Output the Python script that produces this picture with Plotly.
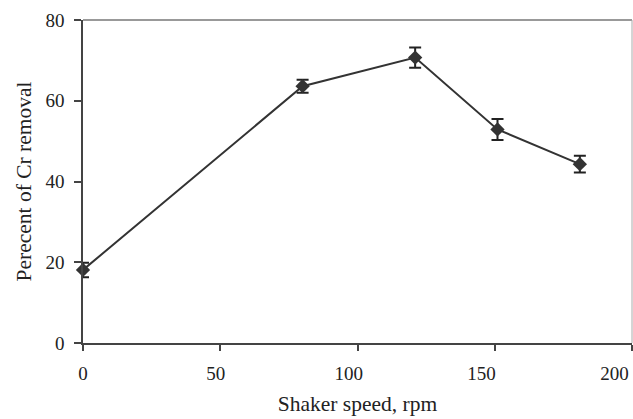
import plotly.graph_objects as go

speed = [0, 80, 121, 151, 181]
removal = [18.1, 63.6, 70.7, 52.9, 44.3]
err = [1.8, 1.6, 2.5, 2.6, 2.1]
x_ticks = [0, 50, 100, 150, 200]
y_ticks = [0, 20, 40, 60, 80]

FONT = "Liberation Serif, Times New Roman, serif"
AX = "#444444"

fig = go.Figure()
fig.add_trace(go.Scatter(
    x=speed, y=removal, mode="lines+markers",
    line=dict(color="#333333", width=2),
    marker=dict(symbol="diamond", size=11, color="#333333"),
    error_y=dict(type="data", array=err, visible=True, color="#222222", thickness=2, width=6),
    showlegend=False, cliponaxis=False,
))
# invisible helper trace so the label-only axis is drawn
fig.add_trace(go.Scatter(x=[x_ticks[0]], y=[y_ticks[0]], xaxis="x2", mode="markers",
                         marker=dict(opacity=0), showlegend=False, hoverinfo="skip"))

fig.update_layout(
    width=633, height=419,
    margin=dict(l=83, r=1, t=20, b=76),
    plot_bgcolor="white", paper_bgcolor="white",
    font=dict(family=FONT, size=19, color="#222222"),
    xaxis=dict(
        range=[0, 200], tickvals=x_ticks, ticks="outside", ticklen=6, tickwidth=1.5,
        tickcolor=AX, showline=True, linecolor=AX, linewidth=1.5,
        showgrid=False, zeroline=False, showticklabels=False,
    ),
    xaxis2=dict(
        overlaying="x", anchor="y", side="bottom",
        range=[0, 200 / 0.968], tickvals=x_ticks, ticks="", showline=False,
        showgrid=False, zeroline=False, tickfont=dict(size=19),
        ticklabelstandoff=17,
        title=dict(text="Shaker speed, rpm", standoff=12, font=dict(size=21.5)),
    ),
    yaxis=dict(
        range=[0, 80], tickvals=y_ticks, ticks="outside", ticklen=7, tickwidth=1.5,
        tickcolor=AX, showline=True, linecolor=AX, linewidth=1.5,
        showgrid=False, zeroline=False, ticklabelstandoff=6,
        title=dict(text="Perecent of Cr removal", standoff=8, font=dict(size=21.5)),
        tickfont=dict(size=19),
    ),
    shapes=[
        dict(type="line", xref="paper", yref="paper", x0=0, x1=1, y0=1, y1=1,
             line=dict(color="#777777", width=1.5)),
        dict(type="line", xref="paper", yref="paper", x0=1, x1=1, y0=0, y1=1,
             line=dict(color="#aaaaaa", width=1)),
    ],
)

fig.write_html("out.html")
